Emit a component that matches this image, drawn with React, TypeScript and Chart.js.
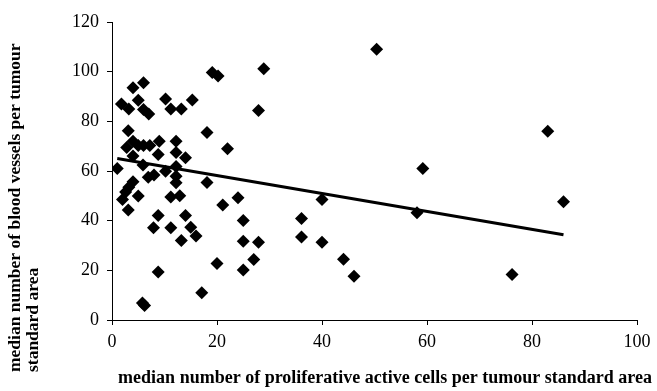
import React, { useEffect, useRef } from "react";
import { Chart, registerables } from "chart.js";

Chart.register(...registerables);

// Scatter data
const xValues = [
  4, 6, 1.8, 3.2, 5, 6, 7, 10.2, 11.2, 13.2, 15.3, 19.1, 20.2, 28.9, 27.9, 50.4,
  3.1, 18.1, 83, 4, 9, 12.2, 2.8, 5, 6, 7.2, 22,
  8.8, 12.2, 14, 4, 1, 5.9, 12.2, 59.2,
  6.9, 8, 10.2, 12.2, 12.2, 18.1, 4, 3.2, 2.6, 2,
  5, 11.2, 12.9, 24, 21.1, 40, 86, 3.1, 8.8, 14, 25, 36.1, 58.1,
  7.9, 11.2, 15, 16, 13.2, 25, 27.9, 36.1, 40,
  27, 44.1, 20, 25, 8.8, 46.1, 76.2, 17.1, 5.8, 6.2,
];
const yValues = [
  93.5, 95.5, 87, 85, 88.5, 84.8, 83, 89, 85, 85, 88.6, 99.7, 98.3, 101.2, 84.4, 109,
  76.2, 75.5, 76, 72, 72, 72, 69.5, 70.3, 70.3, 70.3, 69,
  66.6, 67.5, 65.3, 66, 61, 62.4, 61.8, 61,
  57.5, 58.4, 59.9, 57.9, 55.3, 55.4, 55.7, 53.5, 51.5, 48.5,
  49.9, 49.5, 50, 49.2, 46.3, 48.5, 47.6, 44.3, 42.1, 42.1, 40.1, 40.9, 43.2,
  37.1, 37.1, 37.3, 33.8, 32, 31.7, 31.3, 33.4, 31.3,
  24.4, 24.5, 22.8, 20.1, 19.3, 17.6, 18.3, 11, 6.8, 5.8,
];

// Regression line end points
const trendX = [1, 86];
const trendY = [65, 34.3];

const xTitle = "median number of proliferative active cells per tumour standard area";
const yTitleLines = ["median number of blood vessels per tumour", "standard area"];

const SERIF = '"Liberation Serif", "Times New Roman", serif';

export default function App() {
  const ref = useRef<HTMLCanvasElement | null>(null);

  useEffect(() => {
    if (!ref.current) return;
    const titlePlugin = {
      id: "titles",
      afterDraw(chart: any) {
        const ctx = chart.ctx;
        ctx.save();
        ctx.fillStyle = "#000";
        ctx.textBaseline = "middle";
        ctx.textAlign = "center";
        ctx.font = `bold 18px ${SERIF}`;
        ctx.fillText(xTitle, 385, 378);
        ctx.font = `bold 17.5px ${SERIF}`;
        ctx.translate(15, 372);
        ctx.rotate(-Math.PI / 2);
        ctx.textAlign = "left";
        ctx.fillText(yTitleLines[0], 0, 0);
        ctx.fillText(yTitleLines[1], 0, 18);
        ctx.restore();
      },
    };

    const chart = new Chart(ref.current, {
      type: "scatter",
      data: {
        datasets: [
          {
            data: xValues.map((x, i) => ({ x, y: yValues[i] })),
            pointStyle: "rectRot",
            pointRadius: 6.5,
            pointBackgroundColor: "#000",
            pointBorderColor: "#000",
            pointBorderWidth: 0,
            showLine: false,
          },
          {
            data: trendX.map((x, i) => ({ x, y: trendY[i] })),
            showLine: true,
            borderColor: "#000",
            borderWidth: 3,
            pointRadius: 0,
          },
        ],
      },
      options: {
        responsive: false,
        animation: false,
        layout: { padding: { left: 0, top: 22, right: 20, bottom: 0 } },
        plugins: {
          legend: { display: false },
          tooltip: { enabled: false },
        },
        scales: {
          x: {
            type: "linear",
            min: 0,
            max: 100,
            ticks: {
              stepSize: 20,
              color: "#000",
              font: { family: SERIF, size: 18 },
              padding: 6,
            },
            grid: {
              display: true,
              drawOnChartArea: false,
              drawTicks: true,
              tickLength: 5,
              color: "#000",
            },
            border: { display: true, color: "#000", width: 1 },
            afterFit(scale: any) {
              scale.height = 71;
            },
          },
          y: {
            type: "linear",
            min: 0,
            max: 120,
            ticks: {
              stepSize: 20,
              color: "#000",
              font: { family: SERIF, size: 18 },
              padding: 8,
            },
            grid: {
              display: true,
              drawOnChartArea: false,
              drawTicks: true,
              tickLength: 5,
              color: "#000",
            },
            border: { display: true, color: "#000", width: 1 },
            afterFit(scale: any) {
              scale.width = 112;
            },
          },
        },
      },
      plugins: [titlePlugin],
    });
    return () => chart.destroy();
  }, []);

  return (
    <canvas
      ref={ref}
      width={657}
      height={391}
      style={{ position: "fixed", left: 0, top: 0, display: "block", background: "#fff" }}
    />
  );
}
